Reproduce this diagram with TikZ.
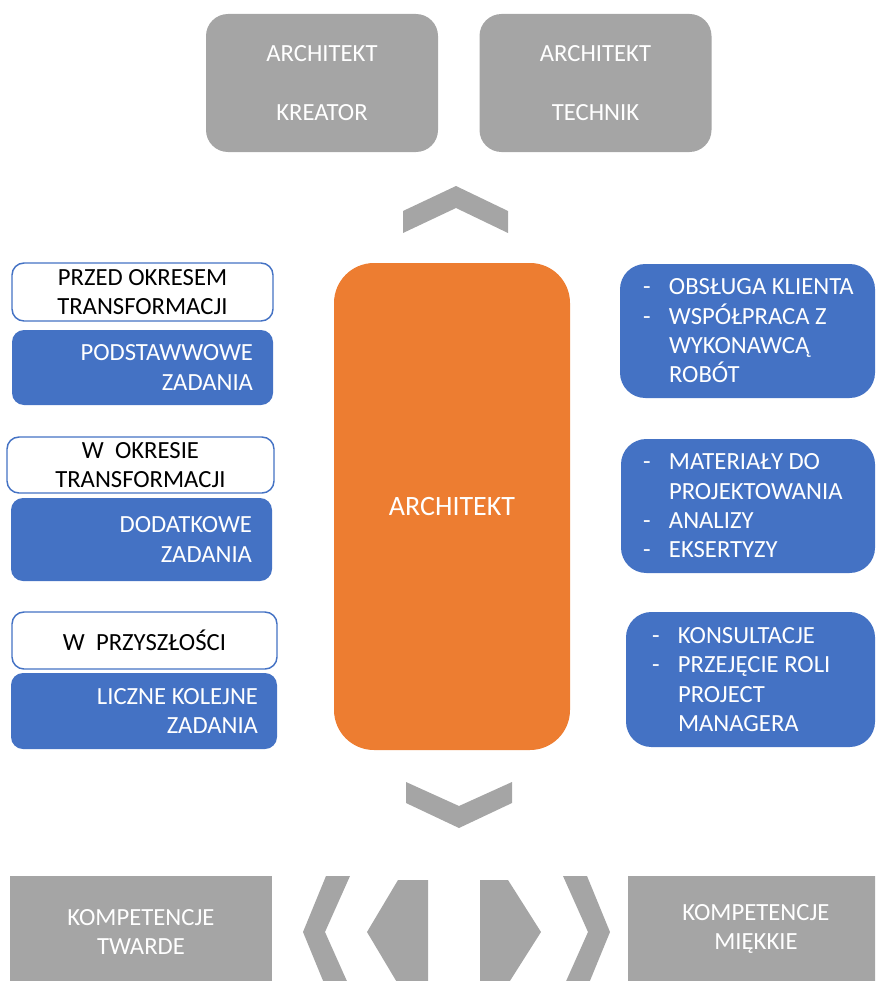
\documentclass[tikz,border=0pt]{standalone}
\usepackage{fontspec}
\setmainfont{Carlito}
\usetikzlibrary{positioning}
\definecolor{archgray}{HTML}{A5A5A5}
\definecolor{archblue}{HTML}{4472C4}
\definecolor{archorange}{HTML}{ED7D31}
\newcommand{\itemdash}{\makebox[19.5pt][l]{-}}
\newcommand{\itemgap}{\hspace*{19.5pt}}

\begin{document}
\begin{tikzpicture}[x=0.75pt, y=-0.75pt,
    every node/.style={font=\fontsize{18.5}{22}\selectfont},
    role/.style={fill=archgray, text=white, rounded corners=16.5pt, minimum width=174pt, minimum height=103.5pt, align=center},
    period/.style={draw=archblue, line width=1.1pt, fill=white, rounded corners=9pt, align=center, inner sep=0pt},
    task/.style={fill=archblue, rounded corners=9pt},
    tasktext/.style={text=white, align=right, inner sep=0pt},
    duty/.style={fill=archblue, rounded corners=19pt},
    dutytext/.style={text=white, align=left, inner sep=0pt},
    chev/.style={fill=archgray},
    skill/.style={fill=archgray, text=white, align=center, inner sep=0pt}]
    \useasboundingbox (0,0) rectangle (875,981);
    \clip (0,0) rectangle (875,981);

    % two kinds of architect
    \node[role] (kreator) at (322,83) {ARCHITEKT\\[22pt]KREATOR};
    \node[role] (technik) at (595.5,83) {ARCHITEKT\\[22pt]TECHNIK};
    \fill[chev] (403,233) -- (403,211) -- (456,186) -- (508,211) -- (508,233) -- (456,208) -- cycle;

    % centre
    \node[fill=archorange, text=white, rounded corners=30pt, minimum width=177pt, minimum height=365.25pt, font=\fontsize{21}{25}\selectfont] (arch) at (452,506.5) {ARCHITEKT};

    % periods and tasks
    \node[period, minimum width=195.75pt, minimum height=43.5pt, text depth=0pt] (przed) at (142.5,292) {PRZED OKRESEM\\TRANSFORMACJI};
    \node[task, minimum width=195.75pt, minimum height=56.25pt] (podst) at (142.5,367.5) {};
    \node[tasktext, left=15pt of podst.east] (podsttxt) {PODSTAWWOWE\\ZADANIA};

    \node[period, minimum width=200.25pt, minimum height=42pt] (wokresie) at (140.5,465) {W\ \ OKRESIE\\TRANSFORMACJI};
    \node[task, minimum width=195.75pt, minimum height=62.25pt] (dodat) at (141.5,539.5) {};
    \node[tasktext, left=15pt of dodat.east] (dodattxt) {DODATKOWE\\ZADANIA};

    \node[period, minimum width=198.75pt, minimum height=42.75pt] (przysz) at (144.5,640.5) {W\ \ PRZYSZŁOŚCI};
    \node[task, minimum width=199.5pt, minimum height=57pt] (liczne) at (144,711) {};
    \node[tasktext, left=14.25pt of liczne.east] (licznetxt) {LICZNE KOLEJNE\\ZADANIA};

    % duties
    \node[duty, minimum width=191.25pt, minimum height=100.5pt] (obsluga) at (747.5,331) {};
    \node[dutytext, right=17.25pt of obsluga.west] (obslugatxt) {\itemdash OBSŁUGA KLIENTA\\\itemdash WSPÓŁPRACA Z\\\itemgap WYKONAWCĄ\\\itemgap ROBÓT};
    \node[duty, minimum width=190.5pt, minimum height=100.5pt] (materialy) at (748,506) {};
    \node[dutytext, right=16.5pt of materialy.west] (materialytxt) {\itemdash MATERIAŁY DO\\\itemgap PROJEKTOWANIA\\\itemdash ANALIZY\\\itemdash EKSERTYZY};
    \node[duty, minimum width=186.75pt, minimum height=101.25pt] (konsult) at (750.5,679.5) {};
    \node[dutytext, right=19.5pt of konsult.west] (konsulttxt) {\itemdash KONSULTACJE\\\itemdash PRZEJĘCIE ROLI\\\itemgap PROJECT\\\itemgap MANAGERA};

    % competences
    \fill[chev] (406,782) -- (406,803) -- (459,828) -- (512,803) -- (512,782) -- (459,806) -- cycle;
    \node[skill, minimum width=196.5pt, minimum height=84pt] (twarde) at (141,932) {KOMPETENCJE\\TWARDE};
    \node[skill, minimum width=192pt, minimum height=79.5pt] (miekkie) at (756,929) {KOMPETENCJE\\MIĘKKIE};
    \fill[chev] (326,876) -- (350,876) -- (325,932) -- (350,988) -- (326,988) -- (303,932) -- cycle;
    \fill[chev] (398,880) -- (428,880) -- (428,984) -- (398,984) -- (367,932) -- cycle;
    \fill[chev] (480,880) -- (508,880) -- (541,932) -- (508,984) -- (480,984) -- cycle;
    \fill[chev] (563,876) -- (587,876) -- (610,932) -- (587,988) -- (563,988) -- (588,932) -- cycle;
\end{tikzpicture}
\end{document}
